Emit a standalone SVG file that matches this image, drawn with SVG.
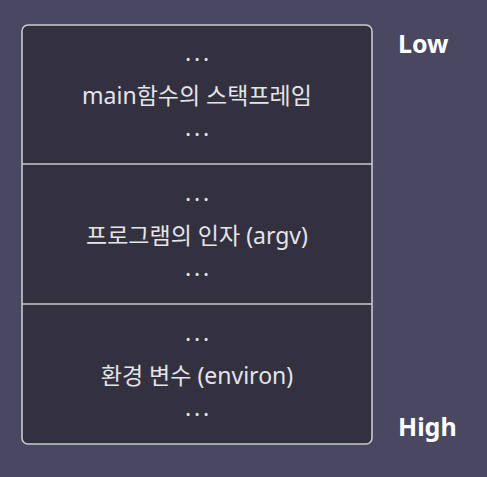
<svg xmlns="http://www.w3.org/2000/svg" width="487" height="477" viewBox="0 0 487 477">
<style>
.t{font-family:"Noto Sans","Noto Sans CJK KR",sans-serif;font-size:23px;fill:#e4e4ea;text-anchor:middle}
.d{font-family:"Noto Sans",sans-serif;font-size:23px;fill:#e4e4ea;text-anchor:middle;letter-spacing:2.8px}
.lbl{font-family:"Noto Sans",sans-serif;font-size:25px;font-weight:bold;fill:#ffffff}
.div{stroke:#c9c9d2;stroke-width:1.6}
</style>
<rect width="487" height="477" fill="#4a4760"/>
<g id="stack">
<rect x="22" y="25" width="350" height="419" rx="6" fill="#33313f" stroke="#c9c9d2" stroke-width="1.6"/>
</g>
<g id="connectors">
<line class="div" x1="22" y1="164" x2="372" y2="164"/>
<line class="div" x1="22" y1="304" x2="372" y2="304"/>
</g>
<g id="frame">
<text class="d" x="198.5" y="61">...</text>
<text class="t" x="197" y="104">main함수의 스택프레임</text>
<text class="d" x="198.5" y="136">...</text>
</g>
<g id="argv">
<text class="d" x="198.5" y="201">...</text>
<text class="t" x="197" y="244">프로그램의 인자 (argv)</text>
<text class="d" x="198.5" y="276">...</text>
</g>
<g id="environ">
<text class="d" x="198.5" y="341">...</text>
<text class="t" x="197" y="384">환경 변수 (environ)</text>
<text class="d" x="198.5" y="416">...</text>
</g>
<g id="low"><text class="lbl" x="398" y="53">Low</text></g>
<g id="high"><text class="lbl" x="398" y="436">High</text></g>
</svg>
